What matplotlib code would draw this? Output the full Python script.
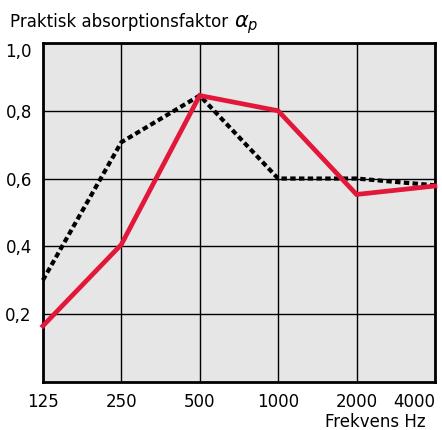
import numpy as np
import matplotlib.pyplot as plt

freqs = ['125', '250', '500', '1000', '2000', '4000']
red_vals = [0.165, 0.405, 0.845, 0.80, 0.553, 0.578]
dot_vals = [0.30, 0.707, 0.845, 0.60, 0.60, 0.58]
yticks = [0.2, 0.4, 0.6, 0.8, 1.0]
ylabels = ['0,2', '0,4', '0,6', '0,8', '1,0']

fig = plt.figure(figsize=(4.42, 4.30), dpi=100)
ax = fig.add_axes([0.097, 0.112, 0.887, 0.788])
ax.set_facecolor('#e6e6e6')

x = np.arange(len(freqs))
ax.plot(x, dot_vals, color='black', lw=3.0, linestyle=(0, (1.3, 0.8)), zorder=3, clip_on=False)
ax.plot(x, red_vals, color='#e2173a', lw=3.4, zorder=4, solid_joinstyle='miter', clip_on=False)

ax.set_xlim(0, len(freqs) - 1)
ax.set_ylim(0, 1.0)
ax.set_xticks(x)
ax.set_xticklabels(freqs, fontsize=12)
ax.get_xticklabels()[-1].set_horizontalalignment('right')
ax.set_yticks(yticks)
ax.set_yticklabels(ylabels, fontsize=12)
ax.get_yticklabels()[-1].set_verticalalignment('top')
ax.tick_params(length=0, pad=8)
ax.grid(True, color='black', lw=1.0)
ax.set_axisbelow(True)
for s in ax.spines.values():
    s.set_linewidth(2.0)

fig.text(10 / 442, 1 - 27 / 430, 'Praktisk absorptionsfaktor', fontsize=12, va='baseline')
fig.text(234 / 442, 1 - 27 / 430, r'$\alpha_p$', fontsize=15, va='baseline')
fig.text(1 - 16 / 442, 1 - 427 / 430, 'Frekvens Hz', fontsize=12, ha='right', va='baseline')

fig.savefig('out.png', dpi=100)
